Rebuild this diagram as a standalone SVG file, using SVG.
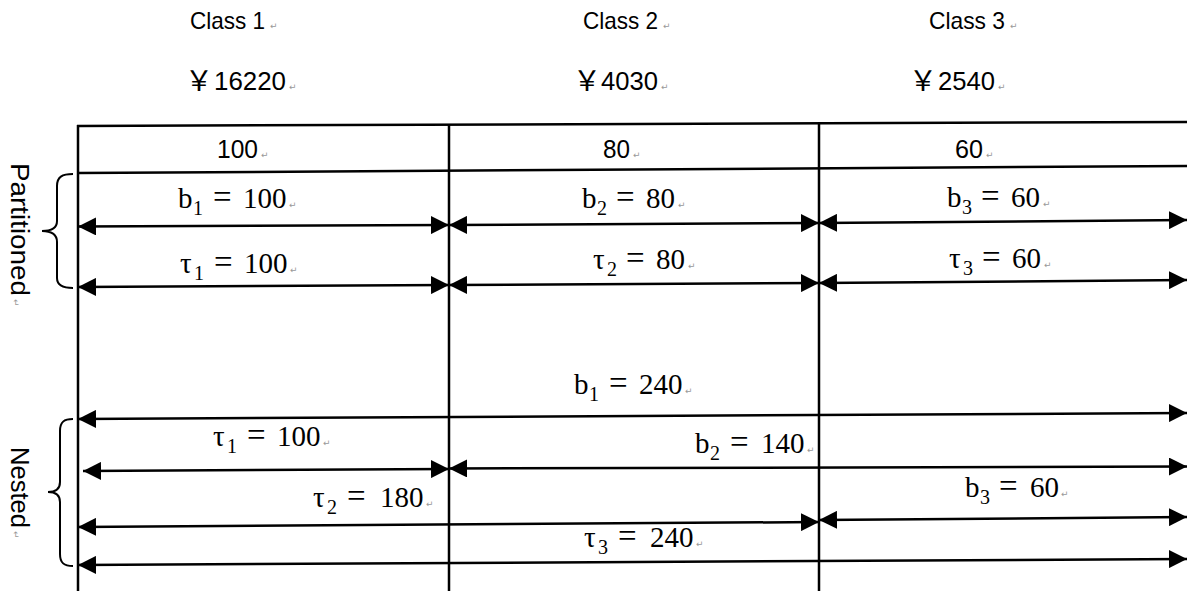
<svg xmlns="http://www.w3.org/2000/svg" width="1187" height="591" viewBox="0 0 1187 591">
<style>
.bg{fill:#fff}
.ln{stroke:#000;stroke-width:2.5;fill:none}
.ar{stroke:#000;stroke-width:2.5;fill:none;marker-start:url(#ah);marker-end:url(#ah)}
.br{stroke:#000;stroke-width:2;fill:none}
.h{font-family:"Liberation Sans",Arial,sans-serif;font-size:26px;fill:#000}
.c{font-size:24px}
.y{font-family:"Noto Sans CJK SC","Liberation Serif",sans-serif;font-size:28px;fill:#000}
.m{font-family:"Liberation Serif","Times New Roman",serif;font-size:29px;fill:#000}
.eq{font-size:33px}
.sub{font-size:20px}
.pm{font-family:"DejaVu Sans",sans-serif;font-size:9px;fill:#999}
</style>
<defs>
<marker id="ah" markerUnits="userSpaceOnUse" markerWidth="18" markerHeight="18" viewBox="0 0 18 18" refX="18" refY="9" orient="auto-start-reverse">
<path d="M0,0 L18,9 L0,18 Z" fill="#000"/>
</marker>
</defs>
<rect class="bg" width="1187" height="591"/>

<g id="headers">
<text class="h c" x="190" y="29" textLength="75" lengthAdjust="spacingAndGlyphs">Class 1</text><text class="pm" x="270" y="29">↵</text>
<text class="h c" x="583" y="29" textLength="75" lengthAdjust="spacingAndGlyphs">Class 2</text><text class="pm" x="663" y="29">↵</text>
<text class="h c" x="929" y="29" textLength="76" lengthAdjust="spacingAndGlyphs">Class 3</text><text class="pm" x="1010" y="29">↵</text>
<text class="y" x="185" y="91">￥</text><text class="h" x="214" y="90" textLength="72" lengthAdjust="spacingAndGlyphs">16220</text><text class="pm" x="289" y="90">↵</text>
<text class="y" x="573" y="91">￥</text><text class="h" x="601" y="90" textLength="57" lengthAdjust="spacingAndGlyphs">4030</text><text class="pm" x="661" y="90">↵</text>
<text class="y" x="909" y="91">￥</text><text class="h" x="938" y="90" textLength="57" lengthAdjust="spacingAndGlyphs">2540</text><text class="pm" x="998" y="90">↵</text>
</g>

<g id="table">
<path class="ln" d="M77,126 L1187,122"/>
<path class="ln" d="M78,173 L1187,166"/>
<path class="ln" d="M78,125 L78,591"/>
<path class="ln" d="M449,124 L449,591"/>
<path class="ln" d="M819,123 L819,591"/>
<text class="h" x="217" y="158" textLength="41" lengthAdjust="spacingAndGlyphs">100</text><text class="pm" x="261" y="158">↵</text>
<text class="h" x="603" y="158" textLength="27" lengthAdjust="spacingAndGlyphs">80</text><text class="pm" x="633" y="158">↵</text>
<text class="h" x="955" y="158" textLength="28" lengthAdjust="spacingAndGlyphs">60</text><text class="pm" x="986" y="158">↵</text>
</g>

<g id="partitioned">
<path class="br" d="M73,174 C62,174 57,177 57,186 L57,221 C57,228 51,231 42,231 C51,231 57,234 57,242 L57,278 C57,285 62,288 73,288"/>
<text class="h" transform="translate(11,163) rotate(90)" textLength="133" lengthAdjust="spacingAndGlyphs">Partitioned</text>
<text class="pm" transform="translate(13,299) rotate(90)">↵</text>
</g>

<g id="nested">
<path class="br" d="M73,419 C64,419 60,422 60,431 L60,482 C60,489 55,492 48,492 C55,492 60,495 60,502 L60,554 C60,563 64,566 73,566"/>
<text class="h" transform="translate(11,447) rotate(90)" textLength="81" lengthAdjust="spacingAndGlyphs">Nested</text>
<text class="pm" transform="translate(13,531) rotate(90)">↵</text>
</g>

<g id="connectors">
<path class="ar" d="M78,226.5 L449,225"/>
<path class="ar" d="M449,225 L819,223"/>
<path class="ar" d="M819,223 L1187,220"/>
<path class="ar" d="M78,287 L449,285"/>
<path class="ar" d="M449,285 L819,283"/>
<path class="ar" d="M819,283 L1187,280"/>
<path class="ar" d="M78,419 L1187,413"/>
<path class="ar" d="M83,471 L449,469"/>
<path class="ar" d="M449,468.5 L1187,466.5"/>
<path class="ar" d="M78,527 L819,522"/>
<path class="ar" d="M819,520 L1187,517"/>
<path class="ar" d="M78,565 L1187,559"/>
</g>

<g id="labels">
<text class="m" x="178" y="208">b<tspan class="sub" x="193" dy="7">1</tspan><tspan class="eq" x="213" dy="-7">=</tspan><tspan x="243">100</tspan></text><text class="pm" x="289" y="208">↵</text>
<text class="m" x="180" y="273">τ<tspan class="sub" x="194" dy="7">1</tspan><tspan class="eq" x="214" dy="-7">=</tspan><tspan x="244">100</tspan></text><text class="pm" x="290" y="273">↵</text>
<text class="m" x="582" y="208">b<tspan class="sub" x="597" dy="7">2</tspan><tspan class="eq" x="616" dy="-7">=</tspan><tspan x="646">80</tspan></text><text class="pm" x="678" y="208">↵</text>
<text class="m" x="593" y="269">τ<tspan class="sub" x="607" dy="7">2</tspan><tspan class="eq" x="626" dy="-7">=</tspan><tspan x="656">80</tspan></text><text class="pm" x="688" y="269">↵</text>
<text class="m" x="947" y="207">b<tspan class="sub" x="962" dy="7">3</tspan><tspan class="eq" x="981" dy="-7">=</tspan><tspan x="1011">60</tspan></text><text class="pm" x="1043" y="207">↵</text>
<text class="m" x="949" y="268">τ<tspan class="sub" x="963" dy="7">3</tspan><tspan class="eq" x="982" dy="-7">=</tspan><tspan x="1012">60</tspan></text><text class="pm" x="1044" y="268">↵</text>
<text class="m" x="574" y="394">b<tspan class="sub" x="589" dy="7">1</tspan><tspan class="eq" x="609" dy="-7">=</tspan><tspan x="639">240</tspan></text><text class="pm" x="685" y="394">↵</text>
<text class="m" x="213" y="446">τ<tspan class="sub" x="227" dy="7">1</tspan><tspan class="eq" x="247" dy="-7">=</tspan><tspan x="277">100</tspan></text><text class="pm" x="323" y="446">↵</text>
<text class="m" x="695" y="453">b<tspan class="sub" x="710" dy="7">2</tspan><tspan class="eq" x="730" dy="-7">=</tspan><tspan x="761">140</tspan></text><text class="pm" x="807" y="453">↵</text>
<text class="m" x="313" y="507">τ<tspan class="sub" x="327" dy="7">2</tspan><tspan class="eq" x="347" dy="-7">=</tspan><tspan x="380">180</tspan></text><text class="pm" x="426" y="507">↵</text>
<text class="m" x="965" y="497">b<tspan class="sub" x="980" dy="7">3</tspan><tspan class="eq" x="999" dy="-7">=</tspan><tspan x="1030">60</tspan></text><text class="pm" x="1061" y="497">↵</text>
<text class="m" x="584" y="547">τ<tspan class="sub" x="598" dy="7">3</tspan><tspan class="eq" x="618" dy="-7">=</tspan><tspan x="650">240</tspan></text><text class="pm" x="696" y="547">↵</text>
</g>
</svg>
